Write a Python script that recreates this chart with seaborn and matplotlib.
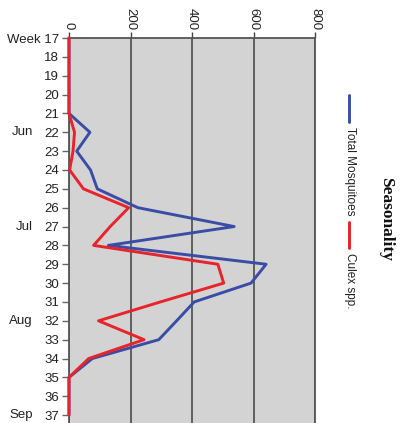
import pandas as pd
import numpy as np
import matplotlib
matplotlib.use("Agg")
from matplotlib import pyplot as plt
from matplotlib import transforms
from matplotlib.lines import Line2D
import seaborn as sns

# Data (weekly counts)
weeks = list(range(17, 38))
total_mosquitoes = [0, 0, 0, 0, 0, 68, 25, 70, 92, 224, 537, 128, 641, 592, 407, 350, 292, 76, 0, 0, 0]
culex_spp = [0, 0, 0, 0, 0, 18, 13, 2, 47, 194, 134, 80, 484, 503, 297, 96, 244, 64, 0, 0, 0]

series_names = ["Total Mosquitoes", "Culex spp."]
series_colors = ["#3a4ca6", "#e8232b"]
week_labels = ["Week 17"] + [str(w) for w in weeks[1:]]
month_weeks = [22, 27, 32, 37]
month_labels = ["Jun", "Jul", "Aug", "Sep"]
count_ticks = [0, 200, 400, 600, 800]

# Long format for seaborn
df = pd.DataFrame({
    "week": weeks * 2,
    "count": total_mosquitoes + culex_spp,
    "series": [series_names[0]] * len(weeks) + [series_names[1]] * len(weeks),
})

sns.set_style("white")
plt.rcParams["font.family"] = ["Liberation Sans", "DejaVu Sans"]

fig = plt.figure(figsize=(4.04, 4.23), dpi=100)
ax = fig.add_axes([69 / 404, 0, 246 / 404, 385 / 423])
ax.set_facecolor("#d3d3d3")

sns.lineplot(data=df, x="count", y="week", hue="series", orient="y",
             palette=series_colors, hue_order=series_names, linewidth=2.1,
             legend=False, ax=ax, clip_on=False, zorder=5)

ax.set_xlim(0, 800)
ax.set_ylim(37.42, 17)
ax.set_xlabel("")
ax.set_ylabel("")

# count axis on top, labels turned like the rest of the chart
ax.xaxis.tick_top()
ax.set_xticks(count_ticks)
ax.set_xticklabels([str(t) for t in count_ticks], rotation=-90, fontsize=9.5, color="#222222")
for lab in ax.get_xticklabels():
    lab.set_va("bottom")
    lab.set_ha("center")
ax.tick_params(axis="x", top=True, bottom=False, length=4, width=1, color="#444444", pad=2)

ax.set_yticks(weeks)
ax.set_yticklabels(week_labels, fontsize=9.5, color="#222222")
ax.tick_params(axis="y", left=True, length=5, width=1, color="#666666", pad=2)

ax.grid(axis="x", color="#555555", linewidth=1.3)
ax.grid(axis="y", visible=False)
ax.set_axisbelow(True)

for side in ["top", "right", "left"]:
    ax.spines[side].set_visible(True)
    ax.spines[side].set_color("#555555")
    ax.spines[side].set_linewidth(1.3)
ax.spines["bottom"].set_visible(False)

# month labels left of the week numbers
trans = transforms.blended_transform_factory(fig.transFigure, ax.transData)
for w, m in zip(month_weeks, month_labels):
    ax.text(33 / 404, w, m, transform=trans, ha="right", va="center",
            fontsize=9.5, color="#222222")

# legend, rotated
legend_y = [(95, 122, 127), (222, 248, 253)]
for (y0, y1, yt), name, col in zip(legend_y, series_names, series_colors):
    fig.add_artist(Line2D([349 / 404, 349 / 404], [1 - y0 / 423, 1 - y1 / 423],
                          color=col, linewidth=2.1, transform=fig.transFigure))
    fig.text(350 / 404, 1 - yt / 423, name, rotation=-90, ha="center", va="top",
             fontsize=8.5, color="#222222")

fig.text(386 / 404, 1 - 219 / 423, "Seasonality", rotation=-90, ha="center", va="center",
         fontsize=12.5, fontweight="bold", family=["Liberation Serif", "DejaVu Serif"],
         color="#111111")

plt.savefig("out.png", dpi=100)
